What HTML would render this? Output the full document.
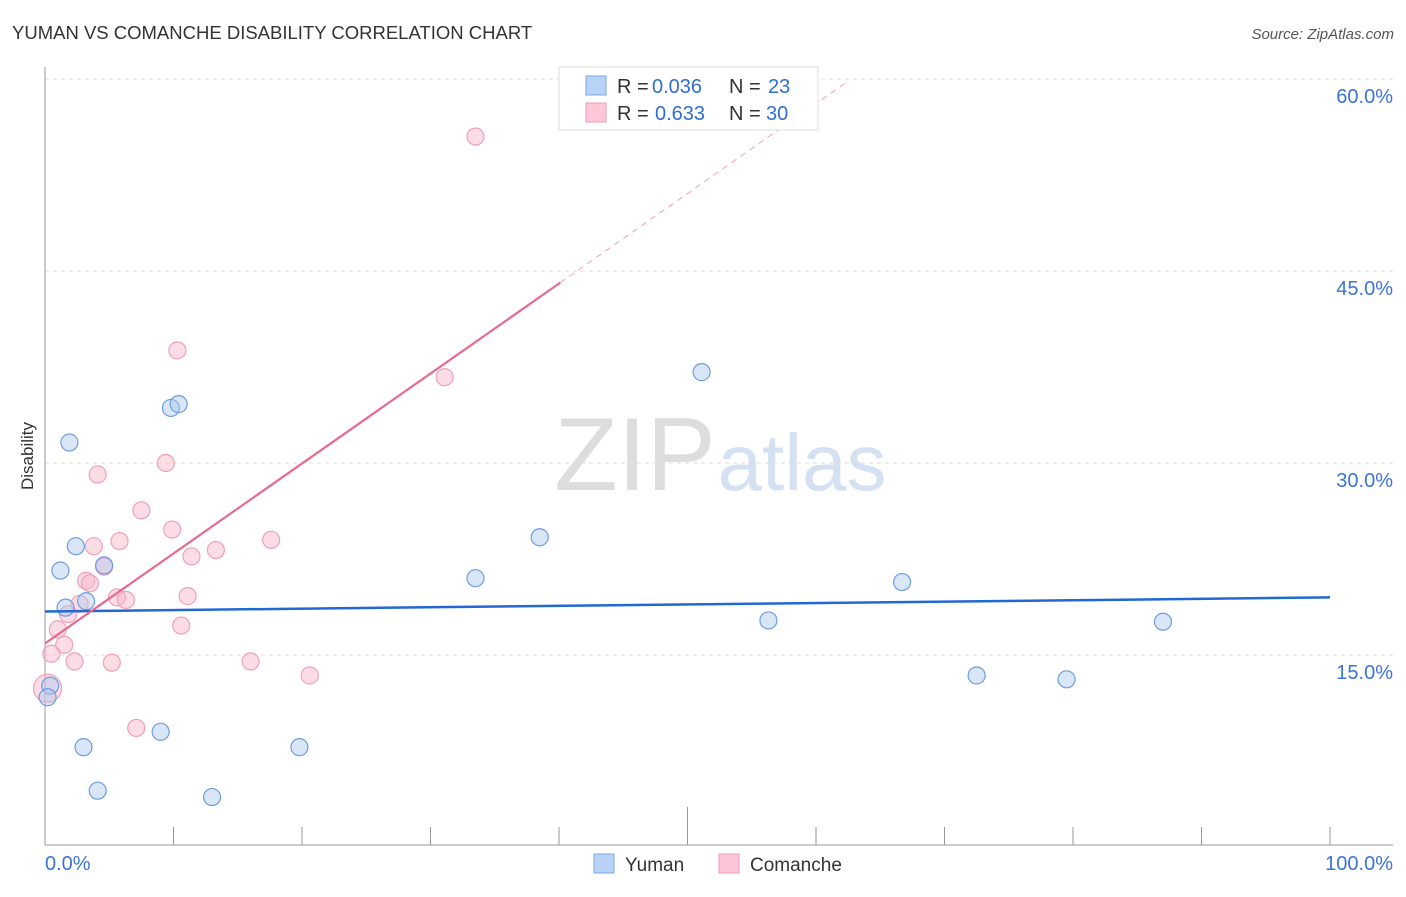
<!DOCTYPE html>
<html><head><meta charset="utf-8"><style>
body{margin:0;background:#fff;font-family:"Liberation Sans",sans-serif}
svg text{font-family:"Liberation Sans",sans-serif}
</style></head><body>
<svg width="1406" height="892" xmlns="http://www.w3.org/2000/svg" id="chart">
<text x="12" y="39" font-size="18.5" fill="#333">YUMAN VS COMANCHE DISABILITY CORRELATION CHART</text>
<text x="1394" y="39" font-size="15" fill="#555" text-anchor="end" font-style="italic">Source: ZipAtlas.com</text>
<text x="0" y="0" transform="translate(33,456) rotate(-90)" font-size="17" fill="#333" text-anchor="middle">Disability</text>
<g>
<text x="635" y="490" font-size="104" fill="#ddd" font-family="Liberation Serif" text-anchor="middle">ZIP</text>
<text x="802" y="490" font-size="80" fill="#d3e1f3" text-anchor="middle">atlas</text>
</g>
<g id="grid"></g>
<g id="axes"></g>
<g id="marks"></g>
<g>
<rect x="559" y="67" width="259" height="63" fill="#fff" stroke="#ddd"/>
<rect x="586" y="76" width="20" height="19" fill="#b8d3f5" stroke="#7da9e4"/>
<rect x="586" y="103" width="20" height="19" fill="#fcc8d8" stroke="#f09ab5"/>
<text x="617" y="93" font-size="20" fill="#333">R =</text>
<text x="652" y="93" font-size="20" fill="#2f6fd0">0.036</text>
<text x="729" y="93" font-size="20" fill="#333">N =</text>
<text x="768" y="93" font-size="20" fill="#2f6fd0">23</text>
<text x="617" y="120" font-size="20" fill="#333">R =</text>
<text x="655" y="120" font-size="20" fill="#2f6fd0">0.633</text>
<text x="729" y="120" font-size="20" fill="#333">N =</text>
<text x="766" y="120" font-size="20" fill="#2f6fd0">30</text>
</g>
<g>
<rect x="594" y="854" width="20" height="19" fill="#b8d3f5" stroke="#7da9e4"/>
<text x="625" y="871" font-size="19" fill="#333">Yuman</text>
<rect x="719" y="854" width="20" height="19" fill="#fcc8d8" stroke="#f09ab5"/>
<text x="750" y="871" font-size="19" fill="#333">Comanche</text>
</g>
</svg>
<script>
const yTicks=[15,30,45,60];
const yTickLabels=["15.0%","30.0%","45.0%","60.0%"];
const xTickLabels=["0.0%","100.0%"];
const yumanX=[1.9,1.2,2.4,1.6,3.2,4.6,0.4,0.2,3.0,4.1,9.0,9.8,10.4,13.0,19.8,33.5,38.5,51.1,56.3,66.7,72.5,79.5,87.0];
const yumanY=[31.6,21.6,23.5,18.7,19.2,22.0,12.6,11.7,7.8,4.4,9.0,34.3,34.6,3.9,7.8,21.0,24.2,37.1,17.7,20.7,13.4,13.1,17.6];
const comancheX=[33.5,10.3,31.1,4.1,9.4,7.5,9.9,5.8,3.8,17.6,13.3,11.4,4.6,3.2,3.5,11.1,5.6,6.3,2.7,1.8,10.6,1.0,1.5,0.5,2.3,5.2,16.0,20.6,7.1,0.2];
const comancheY=[55.5,38.8,36.7,29.1,30.0,26.3,24.8,23.9,23.5,24.0,23.2,22.7,21.9,20.8,20.6,19.6,19.5,19.3,19.0,18.2,17.3,17.0,15.8,15.1,14.5,14.4,14.5,13.4,9.3,12.4];
const yumanTrend=[18.4,19.5];      // y at x=0 and x=100
const comancheTrend=[15.9,0.703]; // intercept, slope
const NS="http://www.w3.org/2000/svg";
const X=v=>45+v*12.85, Y=v=>847-v*12.8;
function mk(t,a,p){const e=document.createElementNS(NS,t);for(const k in a)e.setAttribute(k,a[k]);p.appendChild(e);return e;}
const grid=document.getElementById('grid'),axes=document.getElementById('axes'),marks=document.getElementById('marks');
yTicks.forEach((t,i)=>{
 const l=mk('line',{x1:45,x2:1393,y1:Y(t),y2:Y(t),stroke:'#ddd','stroke-dasharray':'4,4'},grid);
 
 
 const tx=mk('text',{x:1393,y:Y(t)+24,'font-size':20,fill:'#3b74d6','text-anchor':'end'},axes);tx.textContent=yTickLabels[i];
 
 
});
mk('line',{x1:45,x2:45,y1:67,y2:845,stroke:'#999'},axes);
mk('line',{x1:45,x2:1393,y1:845,y2:845,stroke:'#999'},axes);
for(let i=1;i<=10;i++){const x=X(i*10);mk('line',{x1:x,x2:x,y1:i==5?807:827,y2:845,stroke:'#999'},axes);}
[[0,'start',45],[1,'end',1393]].forEach(([i,a,x])=>{const t=mk('text',{x:x,y:870,'font-size':20,fill:'#3b74d6','text-anchor':a},axes);t.textContent=xTickLabels[i];
 
 });
function pt(x,y,r,f,s){const c=mk('circle',{cx:X(x),cy:Y(y),r:r,fill:f,stroke:s,'stroke-width':1.2},marks);return c;}
comancheX.forEach((x,i)=>{const c=pt(x,comancheY[i],i==comancheX.length-1?14:8.5,'rgba(248,180,200,0.45)','#f0a0b8');
 
 });
yumanX.forEach((x,i)=>{const c=pt(x,yumanY[i],8.5,'rgba(170,200,240,0.45)','#6e9de0');
 
 });
const yl=mk('line',{x1:X(0),y1:Y(yumanTrend[0]),x2:X(100),y2:Y(yumanTrend[1]),stroke:'#2168d4','stroke-width':2.5},marks);


const cy=x=>comancheTrend[0]+comancheTrend[1]*x;
const cl=mk('line',{x1:X(0),y1:Y(cy(0)),x2:X(40.1),y2:Y(cy(40.1)),stroke:'#e8698f','stroke-width':2.2},marks);


const cd=mk('line',{x1:X(40.1),y1:Y(cy(40.1)),x2:X(62.3),y2:Y(cy(62.3)),stroke:'#f0a0b8','stroke-width':1,'stroke-dasharray':'6,5'},marks);


</script>
</body></html>
